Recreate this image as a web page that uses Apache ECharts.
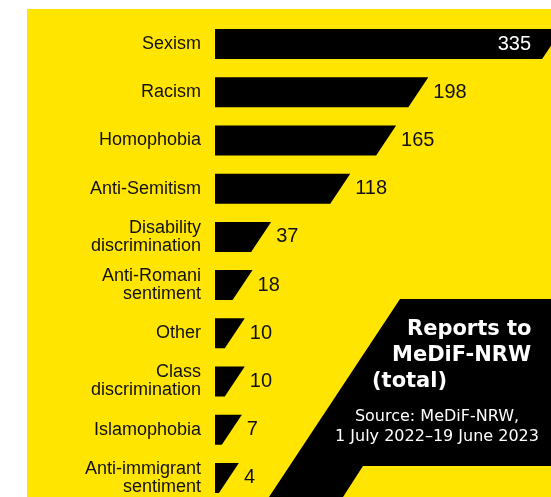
<!DOCTYPE html>
<html lang="en">
<head>
    <meta charset="utf-8">
    <script type="text/javascript" src="https://cdn.jsdelivr.net/npm/echarts@6/dist/echarts.min.js"></script>
</head>
<body style="margin: 0; background: #fff">
<div id="container" style="width:551px;height:497px"></div>

<script type="text/javascript">
    // data
    var categories = ['Sexism', 'Racism', 'Homophobia', 'Anti-Semitism',
        'Disability\ndiscrimination', 'Anti-Romani\nsentiment', 'Other',
        'Class\ndiscrimination', 'Islamophobia', 'Anti-immigrant\nsentiment'];
    var reports = [335, 198, 165, 118, 37, 18, 10, 10, 7, 4];
    var titleLines = ['Reports to', 'MeDiF-NRW', '(total)'];
    var sourceLines = ['Source: MeDiF-NRW,', '1 July 2022\u201319 June 2023'];

    var yellow = '#ffe500';
    var slant = 20;   // extra length of the top edge of each bar
    var barH = 30;

    var dom = document.getElementById("container");
    var myChart = echarts.init(dom);

    var seriesData = reports.map(function (v, i) {
        return [v, i];
    });

    function renderBar(params, api) {
        var idx = api.value(1);
        var val = api.value(0);
        var end = api.coord([val, idx]);
        var start = api.coord([0, idx]);
        var yc = end[1];
        var top = yc - barH / 2, bot = yc + barH / 2;
        var inside = params.dataIndex === 0;
        return {
            type: 'group',
            children: [{
                type: 'polygon',
                shape: {
                    points: [[start[0], bot], [end[0], bot], [end[0] + slant, top], [start[0], top]]
                },
                style: {fill: '#000'}
            }, {
                type: 'text',
                style: {
                    text: String(val),
                    x: inside ? end[0] - 11 : end[0] + slant + 5,
                    y: yc,
                    align: inside ? 'right' : 'left',
                    verticalAlign: 'middle',
                    fill: inside ? '#fff' : '#111',
                    fontSize: 20,
                    fontFamily: 'Liberation Sans'
                }
            }]
        };
    }

    var graphics = [{
        type: 'rect',
        z: -10,
        shape: {x: 27, y: 9, width: 530, height: 500},
        style: {fill: yellow}
    }, {
        // black info panel
        type: 'polygon',
        z: -5,
        shape: {points: [[400, 299], [551, 299], [551, 466], [363, 466], [343, 497], [269, 497]]},
        style: {fill: '#000'}
    }];
    var titleX = [407, 392, 372];
    titleLines.forEach(function (t, i) {
        graphics.push({
            type: 'text',
            z: 10,
            style: {
                text: t, x: titleX[i], y: 330 + i * 26,
                align: 'left', verticalAlign: 'middle',
                fill: '#fff', fontSize: 21, fontWeight: 'bold', fontFamily: 'DejaVu Sans'
            }
        });
    });
    sourceLines.forEach(function (t, i) {
        graphics.push({
            type: 'text',
            z: 10,
            style: {
                text: t, x: 437, y: 417 + i * 19.5,
                align: 'center', verticalAlign: 'middle',
                fill: '#fff', fontSize: 16, fontFamily: 'DejaVu Sans'
            }
        });
    });

    var option = {
        animation: false,
        graphic: graphics,
        grid: {left: 215, top: 20, width: 332, height: 482, outerBoundsMode: 'none'},
        xAxis: {
            type: 'value', min: 0, max: 340, show: false
        },
        yAxis: {
            type: 'category',
            data: categories,
            inverse: true,
            axisLine: {show: false},
            axisTick: {show: false},
            axisLabel: {
                margin: 14,
                color: '#111',
                fontSize: 18,
                lineHeight: 18,
                fontFamily: 'Liberation Sans',
                align: 'right'
            }
        },
        series: [{
            type: 'custom',
            renderItem: renderBar,
            encode: {x: 0, y: 1},
            data: seriesData,
            clip: false
        }]
    };

    myChart.setOption(option);
</script>
</body>
</html>
